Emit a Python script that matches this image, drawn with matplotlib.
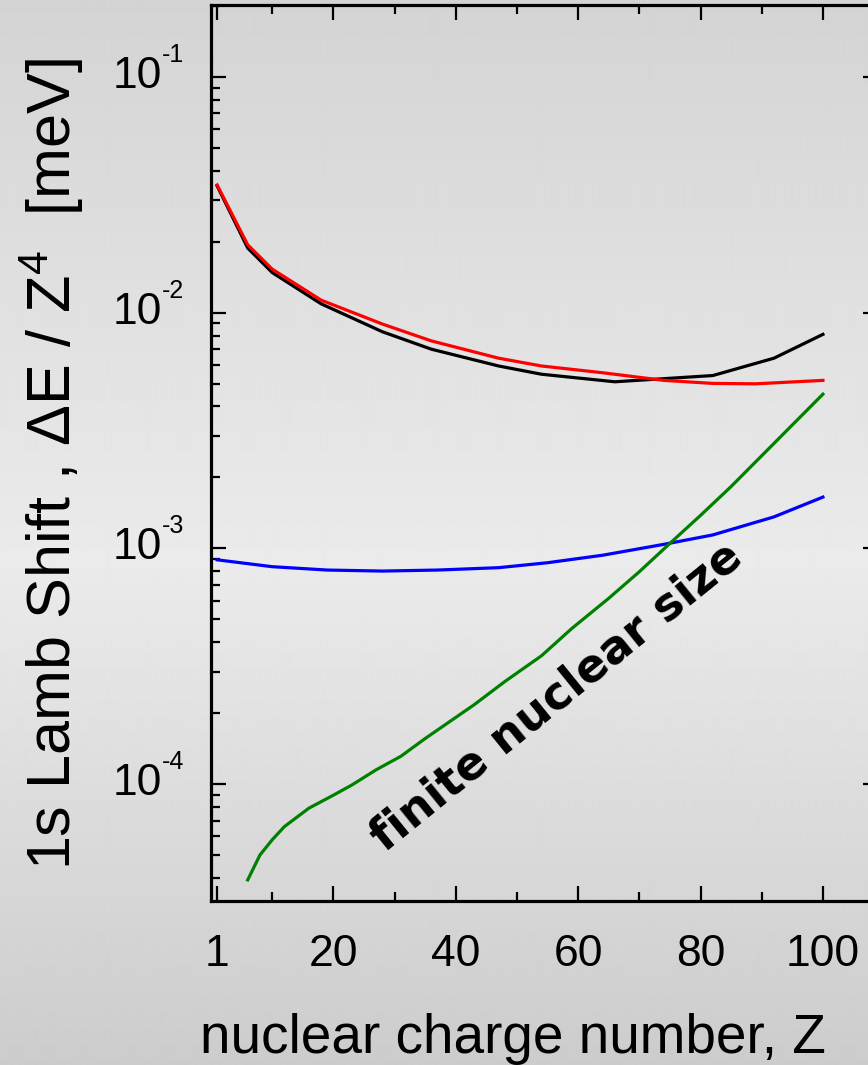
import numpy as np
import matplotlib
matplotlib.use("Agg")
import matplotlib.pyplot as plt
from matplotlib import transforms

# 1s Lamb shift contributions scaled by Z^4 (meV) versus nuclear charge Z
z_total = [1, 6, 10, 18, 28, 36, 47, 54, 66, 82, 92, 100]
total = [0.0345, 0.0188, 0.0148, 0.0109, 0.0083, 0.0070, 0.00594, 0.00548,
         0.00509, 0.00541, 0.00641, 0.00809]

z_se = [1, 6, 10, 18, 28, 36, 47, 54, 64, 74, 82, 89, 100]
self_energy = [0.0348, 0.0194, 0.0153, 0.0113, 0.00895, 0.00759, 0.00641,
               0.00594, 0.00556, 0.00516, 0.00501, 0.00499, 0.00516]

z_vp = [1, 10, 19, 28, 37, 47, 55, 64, 74, 82, 92, 100]
vac_pol = [0.000894, 0.000836, 0.000809, 0.000801, 0.000809, 0.000828,
           0.000869, 0.000935, 0.00104, 0.00114, 0.00136, 0.00165]

z_fns = [6, 8, 10, 12, 16, 20, 23, 27, 31, 35, 43, 48, 54, 59, 65, 70, 75,
         80, 85, 100]
fin_size = [3.92e-5, 5.0e-5, 5.8e-5, 6.6e-5, 7.9e-5, 8.97e-5, 9.9e-5,
            1.15e-4, 1.31e-4, 1.56e-4, 2.17e-4, 2.72e-4, 3.5e-4, 4.58e-4,
            6.14e-4, 7.96e-4, 1.05e-3, 1.38e-3, 1.83e-3, 4.51e-3]

x_ticks = [1, 20, 40, 60, 80, 100]
x_tick_labels = ["1", "20", "40", "60", "80", "100"]
y_decades = [-1, -2, -3, -4]

W, H = 868, 1065
fig = plt.figure(figsize=(W / 100, H / 100), dpi=100)

# soft vertical grey gradient behind everything
bg = fig.add_axes([0, 0, 1, 1], zorder=-10)
rows = np.arange(H)
shade = np.interp(rows, [0, 560, H - 1], [0.83, 0.92, 0.80])
bg.imshow(np.repeat(shade[:, None], 4, axis=1), cmap="gray", vmin=0, vmax=1,
          aspect="auto", extent=[0, 1, 0, 1], interpolation="bilinear")
bg.axis("off")

left, right_px, top_px, bottom_px = 211, 878, 5, 901
ax = fig.add_axes([left / W, 1 - bottom_px / H, (right_px - left) / W,
                   (bottom_px - top_px) / H])
ax.set_facecolor("none")

lw = 2.3
ax.plot(z_total, total, color="black", lw=lw)
ax.plot(z_se, self_energy, color="#ff0000", lw=lw)
ax.plot(z_vp, vac_pol, color="#0000ff", lw=lw)
ax.plot(z_fns, fin_size, color="#008000", lw=lw)

ax.set_yscale("log")
ax.set_ylim(3.19e-5, 0.202)
ax.set_xlim(0, 109)

ax.set_xticks(x_ticks)
ax.set_xticklabels(x_tick_labels, fontfamily="Liberation Sans", fontsize=32)
ax.set_xticks([10, 30, 50, 70, 90], minor=True)
ax.tick_params(axis="x", which="both", direction="in", top=True, bottom=True,
               pad=24)
ax.tick_params(which="major", length=11, width=1.6)
ax.tick_params(which="minor", length=6.5, width=1.6)
ax.tick_params(axis="y", which="both", direction="in", left=True, right=True,
               labelleft=False)
for s in ax.spines.values():
    s.set_linewidth(2.3)

# decade labels drawn as "10" with a small raised exponent
lab_trans = transforms.blended_transform_factory(fig.transFigure, ax.transData)
for d in y_decades:
    base = transforms.offset_copy(lab_trans, fig=fig, y=-11, units="dots")
    ax.text(162 / W, 10.0 ** d, "10", transform=base, ha="right",
            va="baseline", fontsize=32, fontfamily="Liberation Sans",
            clip_on=False)
    sup = transforms.offset_copy(lab_trans, fig=fig, y=15, units="dots")
    ax.text(162 / W, 10.0 ** d, "-%d" % (-d), transform=sup, ha="left",
            va="baseline", fontsize=18, fontfamily="Liberation Sans",
            clip_on=False)

plt.rcParams["mathtext.fontset"] = "custom"
plt.rcParams["mathtext.rm"] = "Liberation Sans"
plt.rcParams["mathtext.it"] = "Liberation Sans:italic"

fig.text(52 / W, 1 - 464 / H,
         "1s Lamb Shift , \u0394E / Z$\\mathregular{^4}$  [meV]",
         rotation=90, ha="center", va="center", fontsize=44,
         fontfamily="Liberation Sans")
fig.text(513 / W, 1 - 1053 / H, "nuclear charge number, Z", ha="center",
         va="baseline", fontsize=39.5, fontfamily="Liberation Sans")

fig.text(557 / W, 1 - 697 / H, "finite nuclear size", rotation=39,
         rotation_mode="anchor", ha="center", va="center", fontsize=33,
         fontweight="bold", fontfamily="DejaVu Sans")

fig.savefig("out.png", dpi=100)
